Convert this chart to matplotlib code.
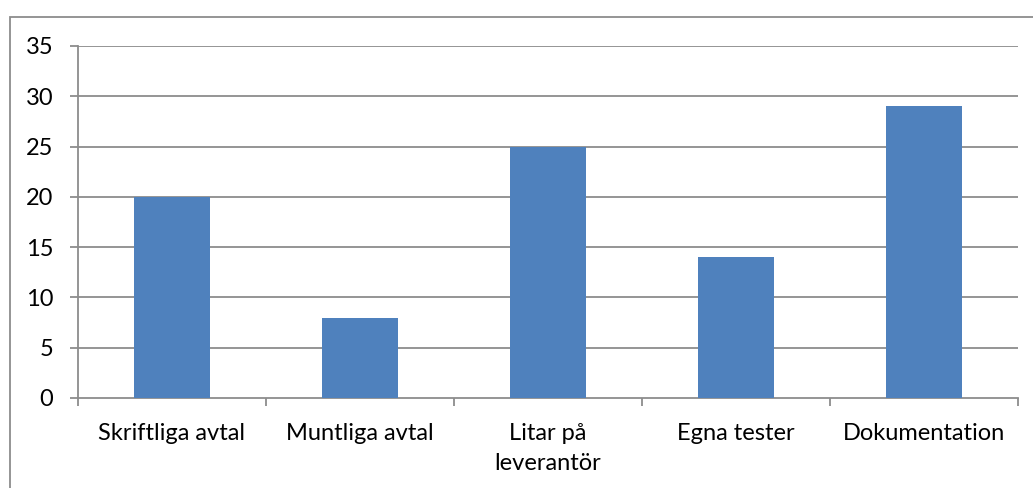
import matplotlib
matplotlib.use("Agg")
import matplotlib.pyplot as plt
from matplotlib.patches import Rectangle

categories = ["Skriftliga avtal", "Muntliga avtal", "Litar på\nleverantör", "Egna tester", "Dokumentation"]
values = [20, 8, 25, 14, 29]
yticks = [0, 5, 10, 15, 20, 25, 30, 35]

W, H = 1033, 488
fig = plt.figure(figsize=(W / 100, H / 100), dpi=100)
fig.patch.set_facecolor("white")

FONT = "Lato"
FS = 17

# outer chart frame (open to the right and bottom)
fig.add_artist(Rectangle((9.5 / W, -0.1), 1.2, (H - 16.5) / H + 0.1,
                         transform=fig.transFigure, fill=False,
                         edgecolor="#8c8c8c", linewidth=1.3))

left, right, top, bottom = 78, 1018, 46, 398
ax = fig.add_axes([left / W, (H - bottom) / H, (right - left) / W, (bottom - top) / H])

grid_c = "#8c8c8c"
x = list(range(len(categories)))
ax.bar(x, values, width=0.4, color="#4F81BD", zorder=3)

ax.set_xlim(-0.5, len(categories) - 0.5)
ax.set_ylim(0, 35)
ax.set_yticks(yticks)
ax.set_yticklabels([str(v) for v in yticks])
for v in yticks[1:]:
    ax.axhline(v, color=grid_c, linewidth=1.3, zorder=1)

ax.set_xticks([i - 0.5 for i in range(len(categories) + 1)], minor=False)
ax.set_xticklabels([])
ax.set_xticks(x, minor=True)
ax.set_xticklabels(categories, minor=True, fontsize=FS, family=FONT,
                   linespacing=1.55, va="top")
ax.tick_params(axis="x", which="minor", length=0, pad=18)
ax.tick_params(axis="x", which="major", length=5.8, width=1.3, color=grid_c)
ax.tick_params(axis="y", length=5.8, width=1.3, color=grid_c, labelsize=FS, pad=12)
for lab in ax.get_yticklabels():
    lab.set_family(FONT)

for s in ["top", "right"]:
    ax.spines[s].set_visible(False)
for s in ["left", "bottom"]:
    ax.spines[s].set_color(grid_c)
    ax.spines[s].set_linewidth(1.3)

fig.savefig("out.png", dpi=100, facecolor="white")
